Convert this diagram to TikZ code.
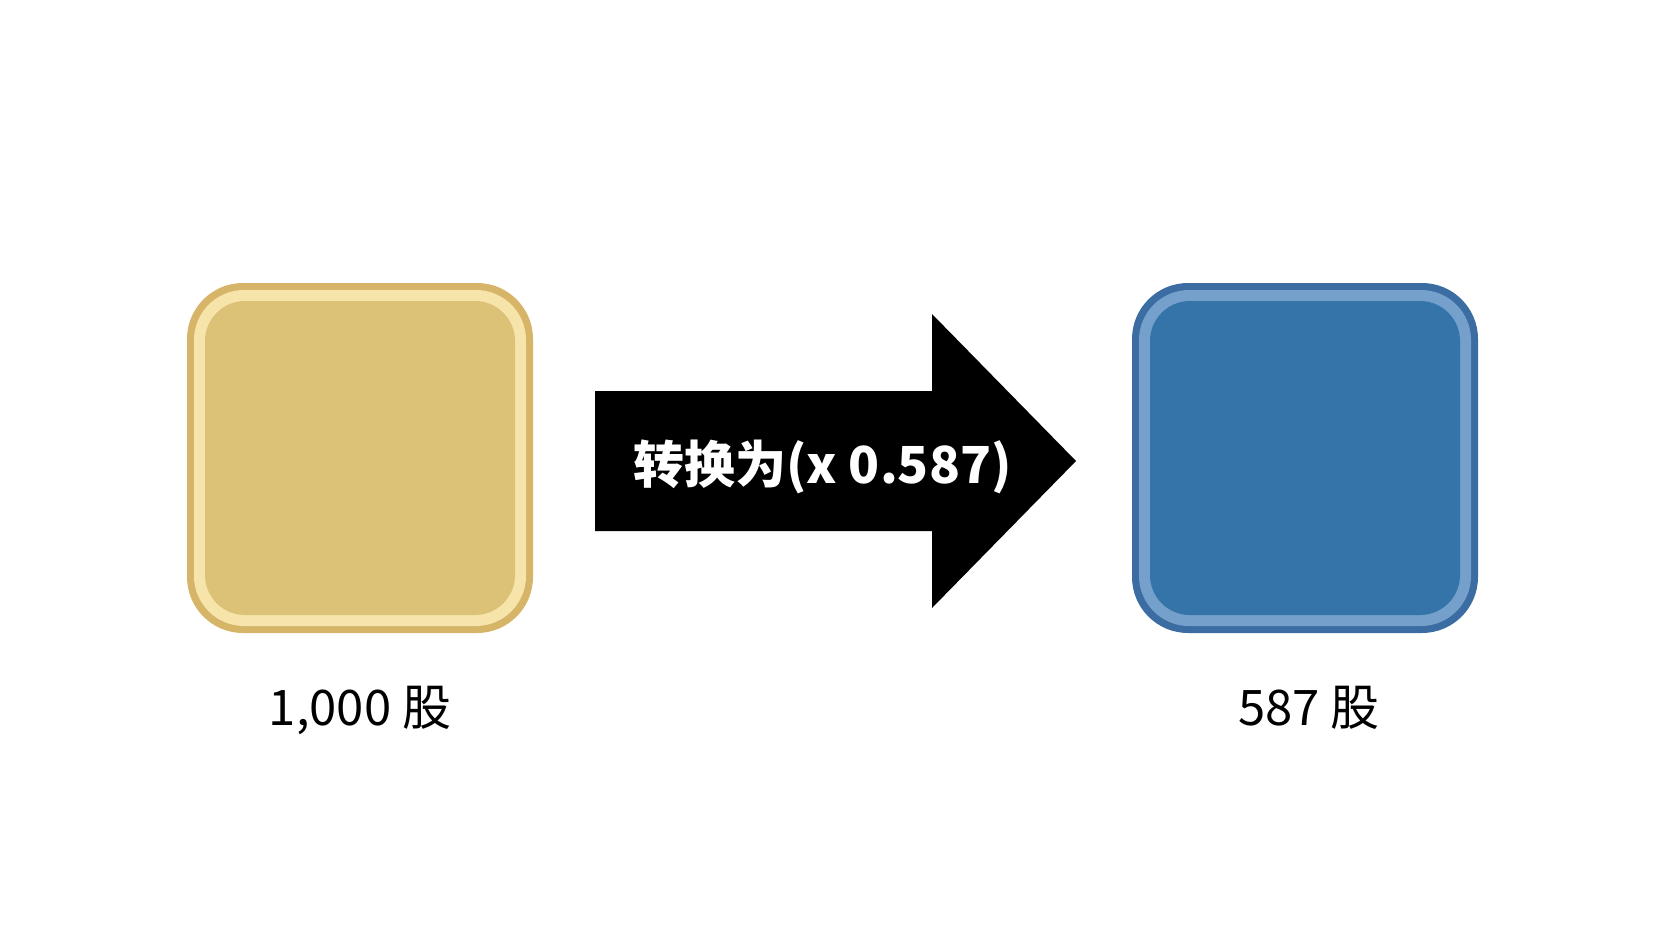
\documentclass[tikz,border=0pt]{standalone}
\usepackage{fontspec}
\setmainfont{Noto Sans CJK SC}

\definecolor{goldedge}{HTML}{D6B468}
\definecolor{goldband}{HTML}{F6E4AA}
\definecolor{goldfill}{HTML}{DCC277}
\definecolor{blueedge}{HTML}{3B6CA2}
\definecolor{blueband}{HTML}{74A0CB}
\definecolor{bluefill}{HTML}{3474A9}

\begin{document}
\begin{tikzpicture}[x=0.5pt, y=-0.5pt,
    every node/.style={inner sep=0pt},
    edgebox/.style={rectangle, rounded corners=28pt, minimum width=173pt, minimum height=175pt},
    bandbox/.style={rectangle, rounded corners=25pt, minimum width=166pt, minimum height=168pt},
    fillbox/.style={rectangle, rounded corners=20pt, minimum width=155pt, minimum height=157pt},
    count/.style={anchor=base, font=\fontsize{24.5pt}{28pt}\selectfont}]
                \useasboundingbox[fill=white] (0, 0) rectangle (1666, 937);
                \node[edgebox, fill=goldedge] (gold) at (360, 458) {};
                \node[bandbox, fill=goldband] (goldband) at (gold.center) {};
                \node[fillbox, fill=goldfill] (goldfill) at (gold.center) {};
                \node[edgebox, fill=blueedge] (blue) at (1305, 458) {};
                \node[bandbox, fill=blueband] (blueband) at (blue.center) {};
                \node[fillbox, fill=bluefill] (bluefill) at (blue.center) {};
                \node[count] (goldcount) at (360, 725) {1,000 股};
                \node[count] (bluecount) at (1309, 725) {587 股};
                \fill[black] (595, 391) -- (932, 391) -- (932, 314) -- (1076, 461) -- (932, 608) -- (932, 531) -- (595, 531) -- cycle;
                \node[anchor=base west, text=white, font=\bfseries\fontsize{25.5pt}{30pt}\selectfont] (convert) at (633, 483) {转换为(x 0.587)};
            \end{tikzpicture}
\end{document}
